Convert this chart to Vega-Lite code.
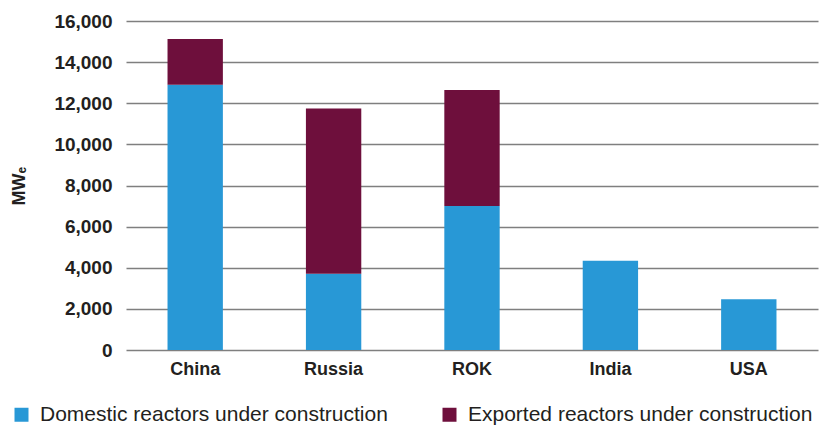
{
  "$schema": "https://vega.github.io/schema/vega-lite/v6.json",
  "autosize": "none",
  "width": 692,
  "height": 329,
  "padding": {"left": 126, "top": 21, "right": 10, "bottom": 79},
  "background": "white",
  "config": {"view": {"stroke": null}, "font": "Liberation Sans"},
  "data": {
    "values": [
      {"country": "China", "type": "Domestic reactors under construction", "value": 12900},
      {"country": "China", "type": "Exported reactors under construction", "value": 2220},
      {"country": "Russia", "type": "Domestic reactors under construction", "value": 3710},
      {"country": "Russia", "type": "Exported reactors under construction", "value": 8030},
      {"country": "ROK", "type": "Domestic reactors under construction", "value": 7000},
      {"country": "ROK", "type": "Exported reactors under construction", "value": 5650},
      {"country": "India", "type": "Domestic reactors under construction", "value": 4340},
      {"country": "USA", "type": "Domestic reactors under construction", "value": 2470}
    ]
  },
  "mark": {"type": "bar"},
  "encoding": {
    "x": {
      "field": "country",
      "type": "nominal",
      "sort": ["China", "Russia", "ROK", "India", "USA"],
      "scale": {"paddingInner": 0.6, "paddingOuter": 0.3},
      "axis": {
        "title": null,
        "labelAngle": 0,
        "labelFont": "Liberation Sans",
        "labelFontWeight": "bold",
        "labelFontSize": 18,
        "labelColor": "#231f20",
        "labelPadding": 10,
        "ticks": false,
        "domain": false
      }
    },
    "y": {
      "field": "value",
      "type": "quantitative",
      "stack": "zero",
      "scale": {"domain": [0, 16000], "nice": false},
      "axis": {
        "title": "MWₑ",
        "titleFont": "Liberation Sans",
        "titleFontWeight": "bold",
        "titleFontSize": 18,
        "titleColor": "#231f20",
        "titlePadding": 25,
        "values": [0, 2000, 4000, 6000, 8000, 10000, 12000, 14000, 16000],
        "format": ",.0f",
        "labelFont": "Liberation Sans",
        "labelFontWeight": "bold",
        "labelFontSize": 19,
        "labelColor": "#231f20",
        "labelPadding": 14,
        "ticks": false,
        "domain": false,
        "grid": true,
        "gridColor": "#7f7f7f",
        "gridWidth": 1.3
      }
    },
    "color": {
      "field": "type",
      "type": "nominal",
      "scale": {
        "domain": ["Domestic reactors under construction", "Exported reactors under construction"],
        "range": ["#2898d6", "#6e0f3c"]
      },
      "legend": {
        "title": null,
        "orient": "none",
        "legendX": -115,
        "legendY": 383,
        "direction": "horizontal",
        "columns": 2,
        "columnPadding": 51,
        "padding": 0,
        "symbolType": "square",
        "symbolSize": 196,
        "symbolStrokeWidth": 0,
        "labelFont": "Liberation Sans",
        "labelFontSize": 21,
        "labelColor": "#231f20",
        "labelOffset": 8,
        "labelLimit": 500
      }
    },
    "order": {"field": "type", "sort": "ascending"}
  }
}
